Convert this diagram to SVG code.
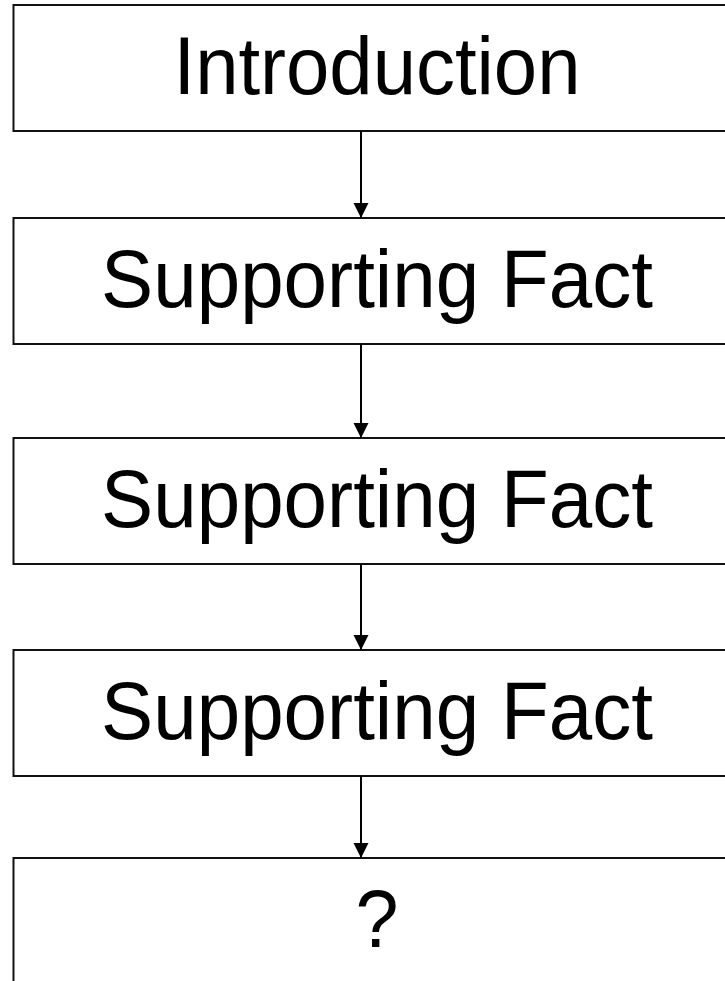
<svg xmlns="http://www.w3.org/2000/svg" width="725" height="981" viewBox="0 0 725 981">
  <style>
    .box { fill: #ffffff; stroke: #111111; stroke-width: 2; }
    .label { font-family: "Liberation Sans", Arial, sans-serif; font-size: 81px; fill: #000000; text-anchor: middle; }
    .edge { stroke: #000000; stroke-width: 2; fill: none; marker-end: url(#arrow); }
  </style>
  <defs>
    <marker id="arrow" markerWidth="15" markerHeight="16" refX="15" refY="7.5" orient="auto" markerUnits="userSpaceOnUse">
      <path d="M0,0 L15,7.5 L0,15 Z" fill="#000000"/>
    </marker>
  </defs>
  <rect width="725" height="981" fill="#ffffff"/>

  <g id="node-introduction">
    <rect class="box" x="13.5" y="5" width="728" height="126"/>
    <text class="label" x="377" y="94" textLength="407" lengthAdjust="spacingAndGlyphs">Introduction</text>
  </g>
  <g id="node-fact-1">
    <rect class="box" x="13.5" y="218" width="728" height="126"/>
    <text class="label" x="377" y="307" textLength="552" lengthAdjust="spacingAndGlyphs">Supporting Fact</text>
  </g>
  <g id="node-fact-2">
    <rect class="box" x="13.5" y="438" width="728" height="126"/>
    <text class="label" x="377" y="527" textLength="552" lengthAdjust="spacingAndGlyphs">Supporting Fact</text>
  </g>
  <g id="node-fact-3">
    <rect class="box" x="13.5" y="650" width="728" height="126"/>
    <text class="label" x="377" y="739" textLength="552" lengthAdjust="spacingAndGlyphs">Supporting Fact</text>
  </g>
  <g id="node-conclusion">
    <rect class="box" x="13.5" y="858" width="728" height="160"/>
    <text class="label" x="377" y="947" textLength="43" lengthAdjust="spacingAndGlyphs">?</text>
  </g>

  <g id="connectors">
    <line class="edge" x1="361" y1="131" x2="361" y2="218"/>
    <line class="edge" x1="361" y1="344" x2="361" y2="438"/>
    <line class="edge" x1="361" y1="564" x2="361" y2="650"/>
    <line class="edge" x1="361" y1="776" x2="361" y2="858"/>
  </g>
</svg>
